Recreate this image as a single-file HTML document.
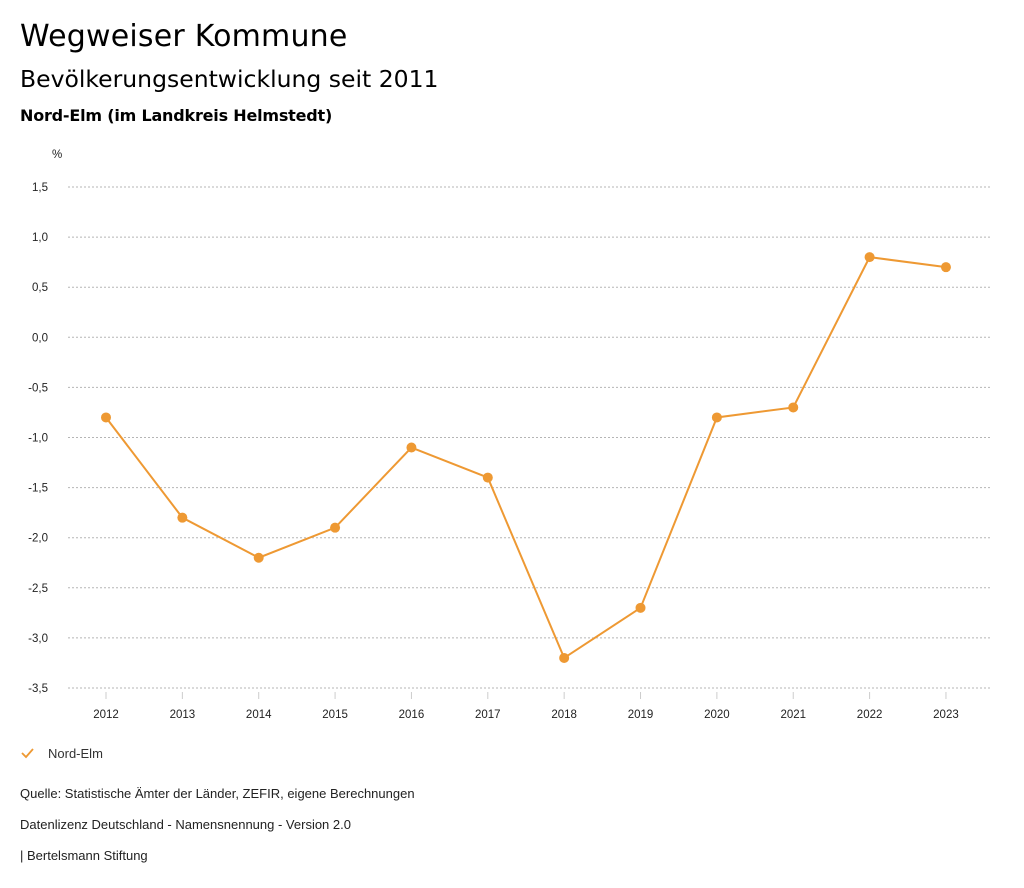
<!DOCTYPE html>
<html><head><meta charset="utf-8"><style>
body{margin:0;background:#fff;width:1024px;height:888px;overflow:hidden;font-family:"Liberation Sans","DejaVu Sans",sans-serif;color:#000}
.t{position:absolute;left:20px;margin:0;white-space:nowrap}
</style></head><body>
<h1 class="t" style="top:19px;font-size:30px;font-weight:normal;font-family:'DejaVu Sans',sans-serif;letter-spacing:0.2px">Wegweiser Kommune</h1>
<h2 class="t" style="top:65px;font-size:23.5px;font-weight:normal;font-family:'DejaVu Sans',sans-serif">Bevölkerungsentwicklung seit 2011</h2>
<h3 class="t" style="top:106px;font-size:16px;font-weight:bold;font-family:'DejaVu Sans',sans-serif;letter-spacing:-0.2px">Nord-Elm (im Landkreis Helmstedt)</h3>
<svg id="chart" width="1024" height="888" style="position:absolute;left:0;top:0" font-family="Liberation Sans, sans-serif" font-size="11.5"></svg>
<div class="t" style="top:746px;font-size:13px;color:#333"><svg width="14" height="12" style="vertical-align:-1px;margin-right:14px"><polyline points="2,6 6,10 13,2" fill="none" stroke="#ee9933" stroke-width="1.8"/></svg>Nord-Elm</div>
<div class="t" style="top:786px;font-size:13px;color:#222">Quelle: Statistische Ämter der Länder, ZEFIR, eigene Berechnungen</div>
<div class="t" style="top:817px;font-size:13px;color:#222">Datenlizenz Deutschland - Namensnennung - Version 2.0</div>
<div class="t" style="top:848px;font-size:13px;color:#222">| Bertelsmann Stiftung</div>
<script>
const years=["2012","2013","2014","2015","2016","2017","2018","2019","2020","2021","2022","2023"];
const values=[-0.8,-1.8,-2.2,-1.9,-1.1,-1.4,-3.2,-2.7,-0.8,-0.7,0.8,0.7];
const yTicks=[1.5,1.0,0.5,0.0,-0.5,-1.0,-1.5,-2.0,-2.5,-3.0,-3.5];
const svg=document.getElementById('chart');const NS='http://www.w3.org/2000/svg';
const y=v=>187+(1.5-v)*100.2;
const x=i=>106+i*76.36;
function mk(t,a){const e=document.createElementNS(NS,t);for(const k in a)e.setAttribute(k,a[k]);svg.appendChild(e);return e;}
const u=mk('text',{x:52,y:158,fill:'#222'});u.textContent='%';


yTicks.forEach(v=>{
 const g=mk('line',{x1:68,x2:990,y1:y(v),y2:y(v),stroke:'#b5b5b5','stroke-dasharray':'2,2','stroke-width':1});
 
 
 const t=mk('text',{x:48,y:y(v)+4,'text-anchor':'end',fill:'#222'});t.textContent=v.toFixed(1).replace('.',',');
 
 
});
years.forEach((yr,i)=>{
 const l=mk('line',{x1:x(i),x2:x(i),y1:692,y2:699,stroke:'#ccc'});
 
 
 const t=mk('text',{x:x(i),y:718,'text-anchor':'middle',fill:'#222'});t.textContent=yr;
 
 
});
const p=mk('polyline',{points:values.map((v,i)=>x(i)+','+y(v)).join(' '),fill:'none',stroke:'#ee9933','stroke-width':2});


values.forEach((v,i)=>{
 const c=mk('circle',{cx:x(i),cy:y(v),r:5,fill:'#ee9933'});
 
 
});
</script>
</body></html>
